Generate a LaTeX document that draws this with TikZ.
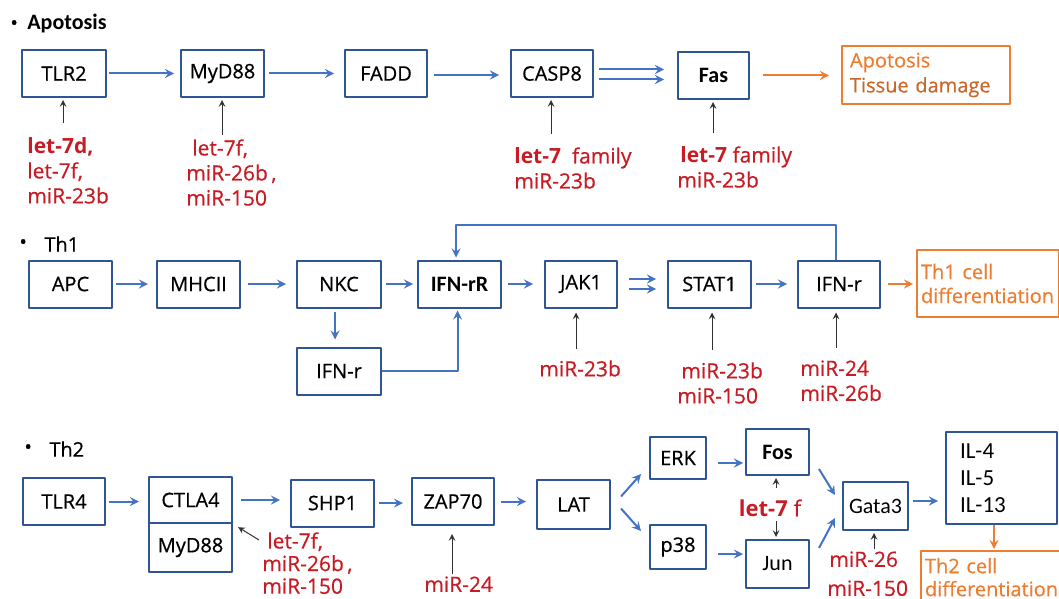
\documentclass[tikz,border=0pt]{standalone}
\usepackage{fontspec}
\setmainfont{Open Sans}[UprightFeatures={FakeBold=0.6}]
\newfontfamily\calfont{Carlito}
\usetikzlibrary{positioning}
\definecolor{boxblue}{RGB}{47,85,151}
\definecolor{arrblue}{RGB}{68,114,196}
\definecolor{mired}{RGB}{200,28,36}
\definecolor{outorange}{RGB}{237,125,49}
\definecolor{outbrown}{RGB}{200,104,45}
\definecolor{inhgray}{RGB}{50,50,50}
\begin{document}
\begin{tikzpicture}[x=0.5pt,y=-0.5pt,>=stealth,line join=round,
  font=\fontsize{10}{12}\selectfont,
  box/.style={draw=boxblue,line width=1pt,minimum width=41.5pt,minimum height=23.5pt,inner sep=1pt},
  calbox/.style={box,font=\calfont\fontsize{11}{13}\selectfont},
  outbox/.style={draw=outorange,line width=1pt,align=left,inner xsep=4pt,inner ysep=3pt,text=outorange,font=\fontsize{10}{12.5}\selectfont},
  flow/.style={->,draw=arrblue,line width=1pt,shorten <=2pt,shorten >=4pt},
  outflow/.style={->,draw=outorange,line width=1pt,shorten <=2pt,shorten >=4pt},
  inhib/.style={->,draw=inhgray,line width=0.5pt,shorten >=1pt},
  mirna/.style={anchor=north west,inner sep=0pt,align=left,text=mired,font=\fontsize{10.5}{12.5}\selectfont},
  head/.style={anchor=west,inner sep=0pt}]
\useasboundingbox (0,0) rectangle (1059,599);
% Apoptosis
\node[head] (dot1) at (10,25) {•};
\node[head,font=\calfont\bfseries\fontsize{11}{13}\selectfont] (apohead) at (27,24) {Apotosis};
\node[box,minimum width=42pt] (tlr2) at (64,73.5) {TLR2};
\node[box] (myd88a) at (222.5,73.5) {MyD88};
\node[box,minimum width=41pt] (fadd) at (386,73.5) {FADD};
\node[box,minimum width=41pt] (casp8) at (552,73.5) {CASP8};
\node[calbox,minimum width=35.5pt,font=\calfont\bfseries\fontsize{11}{13}\selectfont] (fas) at (713.5,75.5) {Fas};
\node[outbox,text width=76pt,minimum height=29pt] (apo) at (926,75) {Apotosis\\\textcolor{outbrown}{Tissue damage}};
\draw[flow,shorten <=1pt,shorten >=3pt] (tlr2) -- (myd88a);
\draw[flow,shorten >=5pt] (myd88a) -- (fadd);
\draw[flow,shorten <=3pt,shorten >=5.5pt] ([yshift=-0.75pt]fadd.east) -- ([yshift=-0.75pt]casp8.west);
\draw[flow,shorten <=2.5pt,shorten >=6.5pt] ([yshift=2pt]casp8.east) -- ([yshift=2pt]casp8.east -| fas.west);
\draw[flow,shorten <=2.5pt,shorten >=6.5pt] ([yshift=-3pt]casp8.east) -- ([yshift=-3pt]casp8.east -| fas.west);
\draw[outflow,shorten <=6.5pt,shorten >=6pt] (fas.east) -- (fas.east -| apo.west);
\coordinate (t1) at (63,123);
\coordinate (t2) at (222,135);
\coordinate (t3) at (551,134);
\coordinate (t4) at (713,133);
\draw[inhib] (t1) -- (t1 |- tlr2.south);
\draw[inhib] (t2) -- (t2 |- myd88a.south);
\draw[inhib] (t3) -- (t3 |- casp8.south);
\draw[inhib] (t4) -- (t4 |- fas.south);
\node[mirna] (tlr2mir) at (27,137) {\textbf{let-7d,}\\let-7f,\\miR-23b};
\node[mirna] (myd88mir) at (186,139) {\hspace{3pt}let-7f,\\miR-26b\,,\\miR-150};
\node[mirna] (casp8mir) at (514,147) {\textbf{let-7}\ \ family\\miR-23b};
\node[mirna] (fasmir) at (677,146) {\hspace{1.5pt}\textbf{let-7} family\\miR-23b};
% Th1
\node[head] (dot2) at (19,244) {•};
\node[head] (th1head) at (44,244) {Th1};
\node[box] (apc) at (70.5,284) {APC};
\node[box] (mhcii) at (198.5,284) {MHCII};
\node[box,minimum width=42pt] (nkc) at (339,284) {NKC};
\node[calbox,font=\calfont\bfseries\fontsize{11}{13}\selectfont] (ifnrr) at (459.5,284) {IFN-rR};
\node[box,minimum width=36pt] (jak1) at (581,284) {JAK1};
\node[box] (stat1) at (709.5,284) {STAT1};
\node[box,minimum width=41pt] (ifnr) at (839,284) {IFN-r};
\node[outbox,text width=67pt,inner xsep=2pt,minimum height=33.5pt,font=\fontsize{10}{12}\selectfont] (th1c) at (988,283.5) {Th1 cell\\differentiation};
\node[box,minimum width=42pt] (ifnrlow) at (339,371) {IFN-r};
\draw[flow,shorten <=1.5pt] (apc) -- (mhcii);
\draw[flow,shorten <=3.5pt,shorten >=5pt] (mhcii) -- (nkc);
\draw[flow,shorten >=2pt] (nkc) -- (ifnrr);
\draw[flow,shorten <=3pt,shorten >=5.5pt] (ifnrr) -- (jak1);
\draw[flow,shorten <=5.5pt,shorten >=5.5pt] ([yshift=2.5pt]jak1.east) -- ([yshift=2.5pt]jak1.east -| stat1.west);
\draw[flow,shorten <=5.5pt,shorten >=5.5pt] ([yshift=-2.5pt]jak1.east) -- ([yshift=-2.5pt]jak1.east -| stat1.west);
\draw[flow,shorten >=5pt] (stat1) -- (ifnr);
\draw[outflow,shorten <=3.5pt,shorten >=1.5pt] (ifnr) -- (ifnr -| th1c.west);
\coordinate (fb) at (456,225);
\draw[flow,shorten <=0pt,shorten >=1pt] ([xshift=-1.5pt]ifnr.north) |- (fb) -- (fb |- ifnrr.north);
\draw[flow,shorten <=0pt,shorten >=1pt] (ifnrlow.east) -| ([xshift=-1pt]ifnrr.south);
\draw[flow,shorten <=1.5pt,shorten >=3.5pt] ([xshift=-2pt]nkc.south) -- ([xshift=-2pt]ifnrlow.north);
\coordinate (t5) at (576,349);
\coordinate (t6) at (712,350);
\coordinate (t7) at (836,348);
\draw[inhib,shorten >=2pt] (t5) -- (t5 |- jak1.south);
\draw[inhib,shorten >=2pt] (t6) -- (t6 |- stat1.south);
\draw[inhib,shorten >=2pt] (t7) -- (t7 |- ifnr.south);
\node[mirna] (jak1mir) at (539,360) {miR-23b};
\node[mirna] (stat1mir) at (677,362) {\hspace{2pt}miR-23b\\miR-150};
\node[mirna] (ifnrmir) at (800,360) {miR-24\\miR-26b};
% Th2
\node[head] (dot3) at (24,449) {•};
\node[head] (th2head) at (49,449) {Th2};
\node[box,minimum width=41pt] (tlr4) at (64,501.5) {TLR4};
\node[box,minimum height=23pt] (ctla4) at (190.5,500) {CTLA4};
\node[box,minimum height=24.5pt,below=-1pt of ctla4] (myd88b) {MyD88};
\node[box] (shp1) at (332.5,503) {SHP1};
\node[box,minimum width=41pt] (zap70) at (453,501.5) {ZAP70};
\node[box,minimum width=36.5pt,minimum height=24.5pt] (lat) at (573.5,504.5) {LAT};
\node[box,minimum width=28pt,minimum height=21pt] (erk) at (678,458) {ERK};
\node[box,minimum width=28pt,minimum height=22pt] (p38) at (678,547) {p38};
\node[calbox,minimum width=31.5pt,minimum height=23pt,font=\calfont\bfseries\fontsize{11}{13}\selectfont] (fos) at (777.5,452) {Fos};
\node[calbox,minimum width=31.5pt,minimum height=24pt] (jun) at (777.5,564) {Jun};
\node[calbox,minimum width=32.5pt,minimum height=24pt] (gata3) at (875.5,506) {Gata3};
\node[calbox,minimum height=46pt,align=left,text width=41.5pt,inner xsep=7pt,font=\calfont\fontsize{11.5}{13.5}\selectfont] (il) at (1001.5,478) {IL-4\\IL-5\\IL-13};
\node[outbox,anchor=north west,text width=70pt,inner xsep=2pt,inner ysep=3.5pt,font=\fontsize{10}{11.5}\selectfont] (th2c) at (920,550) {Th2 cell\\differentiation};
\draw[flow,shorten <=1.5pt,shorten >=4.5pt] (tlr4.east) -- (tlr4.east -| ctla4.west);
\draw[flow,shorten <=4pt,shorten >=5pt] (ctla4.east) -- (ctla4.east -| shp1.west);
\draw[flow] (shp1.east) -- (shp1.east -| zap70.west);
\draw[flow,shorten <=3pt,shorten >=5pt] (zap70.east) -- (zap70.east -| lat.west);
\draw[flow,shorten <=0pt,shorten >=0pt] ([xshift=5pt,yshift=4pt]lat.east) -- ([xshift=-4pt,yshift=3pt]erk.south west);
\draw[flow,shorten <=0pt,shorten >=0pt] ([xshift=5pt,yshift=-2pt]lat.east) -- ([xshift=-4pt,yshift=-3.5pt]p38.north west);
\draw[flow,shorten <=5.5pt,shorten >=1pt] ([yshift=-2.5pt]erk.east) -- ([yshift=-2.5pt]erk.east -| fos.west);
\draw[flow,shorten <=5.5pt,shorten >=1pt] ([yshift=-3.5pt]p38.east) -- ([yshift=-3.5pt]p38.east -| jun.west);
\draw[flow,shorten <=0pt,shorten >=0pt] ([xshift=4.5pt,yshift=3.5pt]fos.south east) -- ([xshift=-3.5pt,yshift=-7pt]gata3.north west);
\draw[flow,shorten <=0pt,shorten >=0pt] ([xshift=4.5pt,yshift=-4.5pt]jun.north east) -- ([xshift=-3.5pt,yshift=6.5pt]gata3.south west);
\draw[flow,shorten >=3.5pt] ([yshift=2.5pt]gata3.east) -- ([yshift=2.5pt]gata3.east -| il.west);
\draw[outflow,shorten <=0pt,shorten >=0.5pt] ([xshift=-3.75pt]il.south) -- ([xshift=-3.75pt]il.south |- th2c.north);
\coordinate (t8) at (259,540);
\coordinate (t9) at (452,574);
\coordinate (t10) at (776,488);
\coordinate (t11) at (776,521);
\coordinate (t12) at (874,549);
\draw[inhib,shorten >=3pt] (t8) -- (ctla4.south east);
\draw[inhib,shorten >=4pt] (t9) -- (t9 |- zap70.south);
\draw[inhib] (t10) -- (t10 |- fos.south);
\draw[inhib] (t11) -- (t11 |- jun.north);
\draw[inhib] (t12) -- (t12 |- gata3.south);
\node[mirna,font=\fontsize{10.5}{11.3}\selectfont] (ctla4mir) at (262,532) {\hspace{2.5pt}let-7f,\\miR-26b\,,\\miR-150};
\node[mirna] (zap70mir) at (424,576) {miR-24};
\node[mirna,anchor=center,font=\fontsize{11}{13}\selectfont] (fosjunmir) at (770,508) {\textbf{let-7} f};
\node[mirna,font=\fontsize{10.5}{14.5}\selectfont] (gata3mir) at (827,551) {\hspace{1pt}miR-26\\miR-150};
\end{tikzpicture}
\end{document}
